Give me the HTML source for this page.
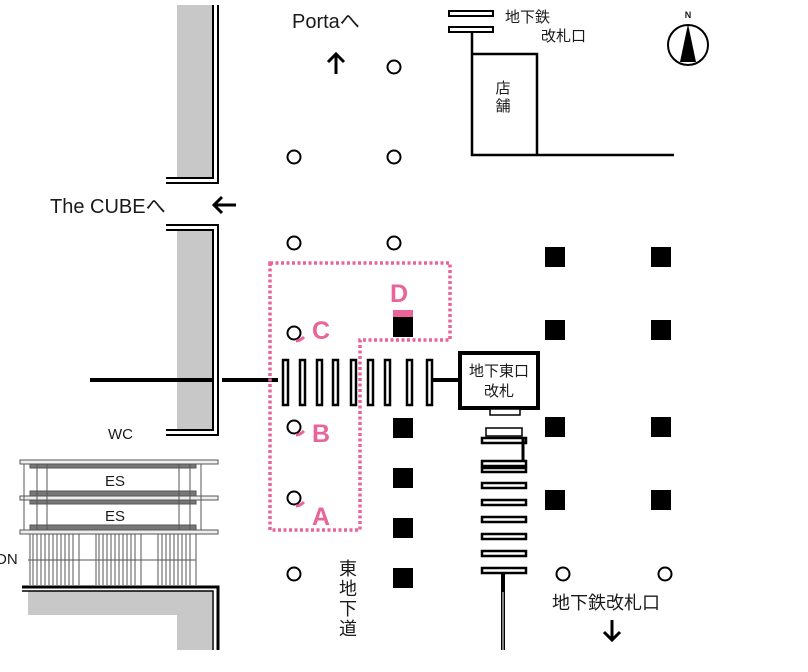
<!DOCTYPE html>
<html><head><meta charset="utf-8"><style>
html,body{margin:0;padding:0;background:#fff;}
svg{display:block;}
text{font-family:"Liberation Sans","Noto Sans CJK JP",sans-serif;fill:#1a1a1a;}
</style></head><body>
<svg width="808" height="672" viewBox="0 0 808 672" xmlns="http://www.w3.org/2000/svg">
<rect x="177" y="5" width="36" height="173" fill="#c8c8c8"/>
<path d="M213 5 V178 H166" fill="none" stroke="#000" stroke-width="2"/>
<path d="M218 5 V183 H166" fill="none" stroke="#000" stroke-width="2"/>
<rect x="177" y="229" width="36" height="200" fill="#c8c8c8"/>
<path d="M166 225 H218 V435 H166" fill="none" stroke="#000" stroke-width="2"/>
<path d="M166 230 H213 V430 H166" fill="none" stroke="#000" stroke-width="2"/>
<line x1="90" y1="380" x2="214" y2="380" stroke="#000" stroke-width="4"/>
<line x1="222" y1="380" x2="278" y2="380" stroke="#000" stroke-width="4"/>
<text x="108" y="439" font-size="15">WC</text>
<g stroke="#555" stroke-width="1" fill="none">
<rect x="20" y="460" width="198" height="4" fill="#eee"/>
<rect x="20" y="496" width="198" height="4" fill="#eee"/>
<rect x="20" y="530" width="198" height="4" fill="#eee"/>
<rect x="30" y="464" width="166" height="4" fill="#777"/>
<rect x="30" y="491" width="166" height="5" fill="#777"/>
<rect x="30" y="500" width="166" height="4" fill="#777"/>
<rect x="30" y="525" width="166" height="5" fill="#777"/>
<line x1="24" y1="464" x2="24" y2="530"/><line x1="37" y1="464" x2="37" y2="530"/><line x1="47" y1="464" x2="47" y2="530"/>
<line x1="179" y1="464" x2="179" y2="530"/><line x1="190" y1="464" x2="190" y2="530"/><line x1="201" y1="464" x2="201" y2="530"/>
<line x1="28" y1="560" x2="196" y2="560"/>
</g>
<g stroke="#555" stroke-width="1">
<path d="M30 534V585M33 534V585M37 534V585M41 534V585M45 534V585M49 534V585M53 534V585M57 534V585M61 534V585M65 534V585M69 534V585M73 534V585M79 534V585M96 534V585M99 534V585M103 534V585M107 534V585M111 534V585M115 534V585M119 534V585M123 534V585M127 534V585M131 534V585M135 534V585M141 534V585M158 534V585M162 534V585M166 534V585M170 534V585M174 534V585M178 534V585M182 534V585M186 534V585M190 534V585M196 534V585"/>
</g>
<text x="115" y="486" font-size="15" text-anchor="middle">ES</text>
<text x="115" y="521" font-size="15" text-anchor="middle">ES</text>
<text x="-4" y="564" font-size="15">DN</text>
<rect x="28" y="591" width="184" height="24" fill="#c8c8c8"/>
<rect x="177" y="591" width="35" height="59" fill="#c8c8c8"/>
<path d="M22 587 H218 V650" fill="none" stroke="#000" stroke-width="3"/>
<path d="M22 591 H213 V650" fill="none" stroke="#000" stroke-width="1.5"/>
<g fill="#fff" stroke="#000" stroke-width="2">
<circle cx="394" cy="67" r="6.5"/><circle cx="294" cy="157" r="6.5"/><circle cx="394" cy="157" r="6.5"/>
<circle cx="294" cy="243" r="6.5"/><circle cx="394" cy="243" r="6.5"/><circle cx="294" cy="333" r="6.5"/>
<circle cx="294" cy="427" r="6.5"/><circle cx="294" cy="498" r="6.5"/><circle cx="294" cy="574" r="6.5"/>
<circle cx="563" cy="574" r="6.5"/><circle cx="665" cy="574" r="6.5"/>
</g>
<g stroke="#e8649a" stroke-width="3" fill="none">
<path d="M296 341 q4 0 8 -4"/><path d="M296 435 q4 0 8 -4"/><path d="M296 506 q4 0 8 -4"/>
</g>
<path d="M270 263 H450 V340 H360 V530 H270 Z" fill="none" stroke="#e8649a" stroke-width="3.5" stroke-dasharray="3 2.5"/>
<g font-size="25" font-weight="bold">
<text x="390" y="302" style="fill:#e8649a">D</text>
<text x="312" y="339" style="fill:#e8649a">C</text>
<text x="312" y="442" style="fill:#e8649a">B</text>
<text x="312" y="525" style="fill:#e8649a">A</text>
</g>
<g fill="#fff" stroke="#000" stroke-width="2.5">
<rect x="283" y="360" width="5" height="45"/><rect x="300" y="360" width="5" height="45"/>
<rect x="317" y="360" width="5" height="45"/><rect x="333" y="360" width="5" height="45"/>
<rect x="351" y="360" width="5" height="45"/><rect x="368" y="360" width="5" height="45"/>
<rect x="385" y="360" width="5" height="45"/><rect x="407" y="360" width="5" height="45"/>
<rect x="427" y="360" width="5" height="45"/>
</g>
<line x1="433" y1="380" x2="460" y2="380" stroke="#000" stroke-width="4"/>
<rect x="460" y="353" width="78" height="55" fill="#fff" stroke="#000" stroke-width="4"/>
<rect x="490" y="409" width="30" height="6" fill="#fff" stroke="#000" stroke-width="1.5"/>
<text x="499" y="376" font-size="15" text-anchor="middle">地下東口</text>
<text x="499" y="396" font-size="15" text-anchor="middle">改札</text>
<g fill="#000">
<rect x="393" y="317" width="20" height="20"/><rect x="393" y="310" width="20" height="7" style="fill:#e8649a"/>
<rect x="393" y="418" width="20" height="20"/><rect x="393" y="468" width="20" height="20"/>
<rect x="393" y="518" width="20" height="20"/><rect x="393" y="568" width="20" height="20"/>
<rect x="545" y="247" width="20" height="20"/><rect x="651" y="247" width="20" height="20"/>
<rect x="545" y="320" width="20" height="20"/><rect x="651" y="320" width="20" height="20"/>
<rect x="545" y="417" width="20" height="20"/><rect x="651" y="417" width="20" height="20"/>
<rect x="545" y="490" width="20" height="20"/><rect x="651" y="490" width="20" height="20"/>
</g>
<g fill="#fff" stroke="#000" stroke-width="2.5">
<rect x="486" y="428" width="36" height="8" stroke-width="1.5"/>
<rect x="482" y="438" width="44" height="5"/>
<path d="M523 438 V462" fill="none" stroke-width="3"/>
<rect x="482" y="461" width="44" height="5"/><rect x="482" y="468" width="44" height="4"/>
<rect x="482" y="483" width="44" height="5"/><rect x="482" y="500" width="44" height="5"/>
<rect x="482" y="517" width="44" height="5"/><rect x="482" y="534" width="44" height="5"/>
<rect x="482" y="551" width="44" height="5"/><rect x="482" y="568" width="44" height="5"/>
</g>
<line x1="503" y1="574" x2="503" y2="650" stroke="#000" stroke-width="4"/>
<line x1="503" y1="592" x2="503" y2="650" stroke="#fff" stroke-width="1"/>
<text x="292" y="28" font-size="20">Portaへ</text>
<path d="M336 74 V54 M328 62 L336 54 L344 62" fill="none" stroke="#000" stroke-width="3"/>
<rect x="449" y="11" width="44" height="5" fill="#fff" stroke="#000" stroke-width="2"/>
<rect x="449" y="27" width="44" height="5" fill="#fff" stroke="#000" stroke-width="2"/>
<path d="M472 33 V155 H674 M472 54 H537 V155" fill="none" stroke="#000" stroke-width="2.5"/>
<text x="505" y="22" font-size="15">地下鉄</text>
<text x="541" y="41" font-size="15">改札口</text>
<text x="503" y="93" font-size="15" text-anchor="middle">店</text>
<text x="503" y="111" font-size="15" text-anchor="middle">舗</text>
<circle cx="688" cy="45" r="20" fill="#fff" stroke="#000" stroke-width="2"/>
<path d="M688 24 L680 62 H696 Z" fill="#000"/>
<text x="688" y="18" font-size="9" text-anchor="middle" font-weight="bold">N</text>
<text x="50" y="213" font-size="20">The CUBEへ</text>
<path d="M236 205 H214 M222 197 L214 205 L222 213" fill="none" stroke="#000" stroke-width="3"/>
<g font-size="18">
<text x="339" y="575">東</text><text x="339" y="595">地</text><text x="339" y="615">下</text><text x="339" y="635">道</text>
</g>
<text x="552" y="609" font-size="18">地下鉄改札口</text>
<path d="M612 620 V640 M604 632 L612 640 L620 632" fill="none" stroke="#000" stroke-width="3"/>
</svg>
</body></html>
